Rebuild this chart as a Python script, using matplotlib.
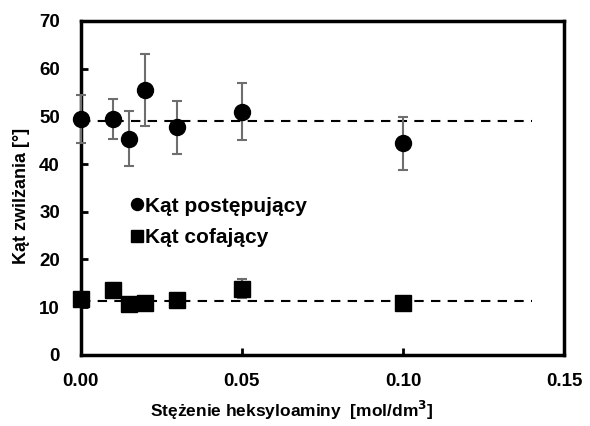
import numpy as np
import matplotlib.pyplot as plt

plt.rcParams['font.family'] = ['Liberation Sans', 'DejaVu Sans']
plt.rcParams['font.weight'] = 'bold'

# Data
conc = [0.0, 0.01, 0.015, 0.02, 0.03, 0.05, 0.10]
adv = [49.4, 49.4, 45.3, 55.5, 47.7, 51.0, 44.3]
adv_err = [5.0, 4.2, 5.8, 7.5, 5.6, 6.0, 5.6]
rec = [11.8, 13.6, 10.6, 10.9, 11.6, 13.9, 10.8]
rec_err = [1.2, 1.5, 0.8, 1.0, 0.9, 2.0, 0.6]
adv_mean = 49.0
rec_mean = 11.2
line_end = 0.14

fig = plt.figure(figsize=(5.9, 4.26), dpi=100)
ax = fig.add_axes([0.137, 0.167, 0.819, 0.784])

ax.plot([0, line_end], [adv_mean, adv_mean], color='black', lw=1.5, dashes=(4.5, 3.5), zorder=1)
ax.plot([0, line_end], [rec_mean, rec_mean], color='black', lw=1.5, dashes=(4.5, 3.5), zorder=1)

ax.errorbar(conc, adv, yerr=adv_err, fmt='o', color='black', ms=11.5,
            ecolor='#6e6e6e', elinewidth=1.5, capsize=3.7, capthick=1.5,
            label='Kąt postępujący', zorder=3, clip_on=False)
ax.errorbar(conc, rec, yerr=rec_err, fmt='s', color='black', ms=11,
            ecolor='#6e6e6e', elinewidth=1.5, capsize=3.7, capthick=1.5,
            label='Kąt cofający', zorder=3, clip_on=False)

ax.set_xlim(0, 0.15)
ax.set_ylim(0, 70)
ax.set_xticks([0, 0.05, 0.10, 0.15])
ax.set_xticklabels(['0.00', '0.05', '0.10', '0.15'])
ax.set_yticks(range(0, 71, 10))
ax.tick_params(direction='in', length=5, width=2, labelsize=13.5)
ax.tick_params(axis='y', pad=15)
ax.tick_params(axis='x', pad=13)
for s in ax.spines.values():
    s.set_linewidth(2.5)

ax.set_xlabel('Stężenie heksyloaminy  [mol/dm$^\\mathbf{3}$]', fontsize=12.5, fontweight='bold')
ax.set_ylabel('Kąt zwilżania [°]', fontsize=13, fontweight='bold')
ax.xaxis.set_label_coords(0.437, -0.132)
ax.yaxis.set_label_coords(-0.105, 0.476)

handles, labels = ax.get_legend_handles_labels()
handles = [h[0] for h in handles]
leg = ax.legend(handles, labels, loc='upper left', bbox_to_anchor=(0.065, 0.53),
                frameon=False, fontsize=15, handletextpad=0.05, handlelength=0.6,
                markerscale=0.75, labelspacing=0.6)

fig.savefig('out.png', dpi=100)
